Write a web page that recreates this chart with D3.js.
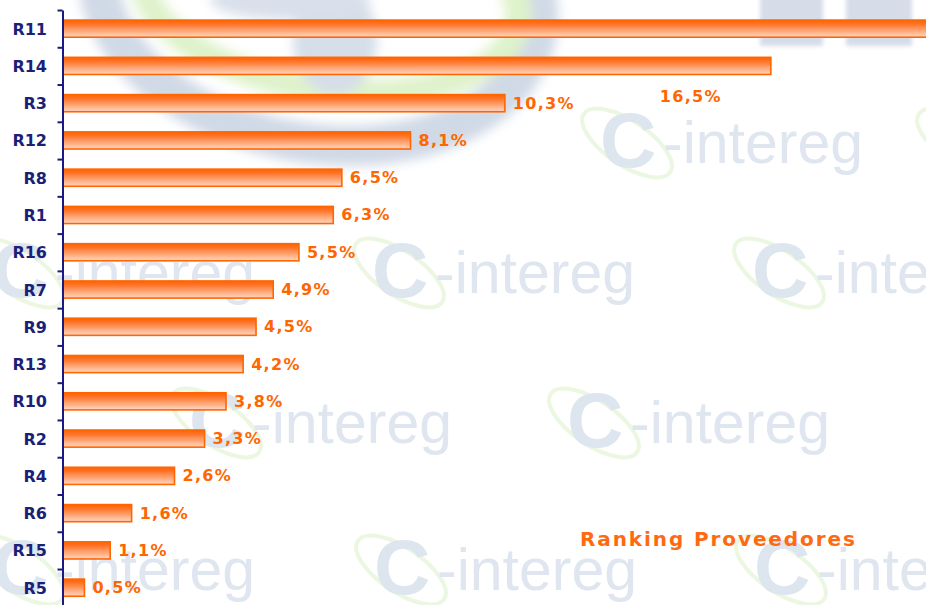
<!DOCTYPE html>
<html>
<head>
<meta charset="utf-8">
<script src="https://cdn.jsdelivr.net/npm/d3@7"></script>
<style>
  html, body { margin: 0; padding: 0; background: #ffffff; overflow: hidden; }
  svg { display: block; }
</style>
</head>
<body>
<svg id="chart" width="926" height="605"></svg>
<script>
// Supplier ranking: share of purchases per region
const categories = ["R11", "R14", "R3", "R12", "R8", "R1", "R16", "R7", "R9", "R13", "R10", "R2", "R4", "R6", "R15", "R5"];
const shares = [20.3, 16.5, 10.3, 8.1, 6.5, 6.3, 5.5, 4.9, 4.5, 4.2, 3.8, 3.3, 2.6, 1.6, 1.1, 0.5];
const chartTitle = "Ranking Proveedores";
const brandMark = "C";
const brandWord = "-intereg";

const W = 926, H = 605;
const svg = d3.select("#chart");
const defs = svg.append("defs");

svg.append("rect").attr("width", W).attr("height", H).attr("fill", "#ffffff");

// ---- background brand watermark ----
defs.append("filter").attr("id", "haze").attr("x", "-20%").attr("y", "-20%").attr("width", "140%").attr("height", "140%")
  .append("feGaussianBlur").attr("stdDeviation", 6);
defs.append("filter").attr("id", "soft")
  .append("feGaussianBlur").attr("stdDeviation", 2);

const wm = svg.append("g").attr("class", "watermark");

// enlarged, blurred emblem across the top
const big = wm.append("g").attr("filter", "url(#haze)");
big.append("ellipse")
  .attr("cx", 318).attr("cy", -5).attr("rx", 222).attr("ry", 148)
  .attr("transform", "rotate(10,318,-5)")
  .attr("fill", "none").attr("stroke", "#d0d9e6").attr("stroke-width", 40);
big.append("ellipse")
  .attr("cx", 330).attr("cy", -5).attr("rx", 190).attr("ry", 95)
  .attr("transform", "rotate(8,330,-5)")
  .attr("fill", "none").attr("stroke", "#def2ca").attr("stroke-width", 26);
big.append("ellipse")
  .attr("cx", 335).attr("cy", 40).attr("rx", 42).attr("ry", 55)
  .attr("fill", "#d6dee9");
big.append("ellipse")
  .attr("cx", 290).attr("cy", 0).attr("rx", 80).attr("ry", 20)
  .attr("fill", "#d9e0eb");

const blocks = wm.append("g").attr("filter", "url(#soft)");
[[760, 63], [846, 66]].forEach(([bx, bw]) => {
  blocks.append("rect").attr("x", bx).attr("y", -5).attr("width", bw).attr("height", 51).attr("fill", "#d6dde8");
});

function logo(x, y) {
  const g = wm.append("g").attr("transform", `translate(${x},${y})`);
  g.append("ellipse")
    .attr("cx", 44).attr("cy", 33).attr("rx", 52).attr("ry", 22)
    .attr("transform", "rotate(34,44,33)")
    .attr("fill", "none").attr("stroke", "#ebf7e0").attr("stroke-width", 4);
  g.append("text")
    .attr("x", 17).attr("y", 57)
    .attr("font-family", "'Liberation Sans', Arial, sans-serif")
    .attr("font-weight", "bold").attr("font-size", 78)
    .attr("fill", "#dde5ef").text(brandMark);
  g.append("text")
    .attr("x", 80).attr("y", 53)
    .attr("font-family", "'Liberation Sans', Arial, sans-serif")
    .attr("font-size", 59)
    .attr("fill", "#dfe6f0").text(brandWord);
}
[[583, 110], [918, 110], [-25, 240], [355, 240], [735, 240], [172, 390], [550, 390], [-25, 537], [357, 537], [737, 537]]
  .forEach(([lx, ly]) => logo(lx, ly));

// ---- scales ----
const x = d3.scaleLinear().domain([0, 20]).range([63, 921]);
const y = d3.scaleBand().domain(categories).range([10, 606.3]).paddingInner(0.54).paddingOuter(0.27);
const slots = d3.scaleLinear().domain([0, categories.length]).range([10, 606.3]);

// ---- bars ----
const grad = defs.append("linearGradient").attr("id", "barFill")
  .attr("x1", 0).attr("y1", 0).attr("x2", 0).attr("y2", 1);
grad.append("stop").attr("offset", "0%").attr("stop-color", "#ff6200");
grad.append("stop").attr("offset", "22%").attr("stop-color", "#ff7225");
grad.append("stop").attr("offset", "100%").attr("stop-color", "#ffd8c4");

const rows = categories.map((c, i) => ({ cat: c, val: shares[i] }));

svg.append("g").selectAll("rect")
  .data(rows).join("rect")
  .attr("x", x(0))
  .attr("y", d => y(d.cat))
  .attr("width", d => x(d.val) - x(0))
  .attr("height", y.bandwidth())
  .attr("fill", "url(#barFill)")
  .attr("stroke", "#ff6600")
  .attr("stroke-width", 1.6);

// ---- value labels ----
const fmt = v => v.toFixed(1).replace(".", ",") + "%";
const labelShift = { R14: [-119, 31] };
svg.append("g").selectAll("text")
  .data(rows.filter(d => x(d.val) + 8 < W)).join("text")
  .attr("x", d => x(d.val) + 8 + (labelShift[d.cat] ? labelShift[d.cat][0] : 0))
  .attr("y", d => y(d.cat) + y.bandwidth() / 2 + 5.5 + (labelShift[d.cat] ? labelShift[d.cat][1] : 0))
  .attr("font-family", "'DejaVu Sans', Verdana, sans-serif")
  .attr("font-weight", "bold").attr("font-size", 16)
  .attr("letter-spacing", 1.3)
  .attr("fill", "#ff6600")
  .text(d => fmt(d.val));

// ---- category axis ----
const axis = svg.append("g")
  .attr("transform", `translate(${x(0) - 0.5},0)`)
  .call(d3.axisLeft(slots).tickValues(d3.range(0, categories.length + 1)).tickFormat("").tickSize(5).tickSizeOuter(0));
axis.select(".domain").attr("stroke", "#1a1a80").attr("stroke-width", 2);
axis.selectAll(".tick line").attr("stroke", "#1a1a80").attr("stroke-width", 2);

svg.append("g").selectAll("text")
  .data(categories).join("text")
  .attr("x", 47)
  .attr("y", c => y(c) + y.bandwidth() / 2 + 6)
  .attr("text-anchor", "end")
  .attr("font-family", "'DejaVu Sans', Verdana, sans-serif")
  .attr("font-weight", "bold").attr("font-size", 16)
  .attr("fill", "#1b1f78")
  .text(c => c);

// ---- title ----
svg.append("text")
  .attr("x", 580).attr("y", 546)
  .attr("font-family", "'DejaVu Sans', Verdana, sans-serif")
  .attr("font-weight", "bold").attr("font-size", 20)
  .attr("letter-spacing", 1.9)
  .attr("fill", "#ff6a10")
  .text(chartTitle);
</script>
</body>
</html>
